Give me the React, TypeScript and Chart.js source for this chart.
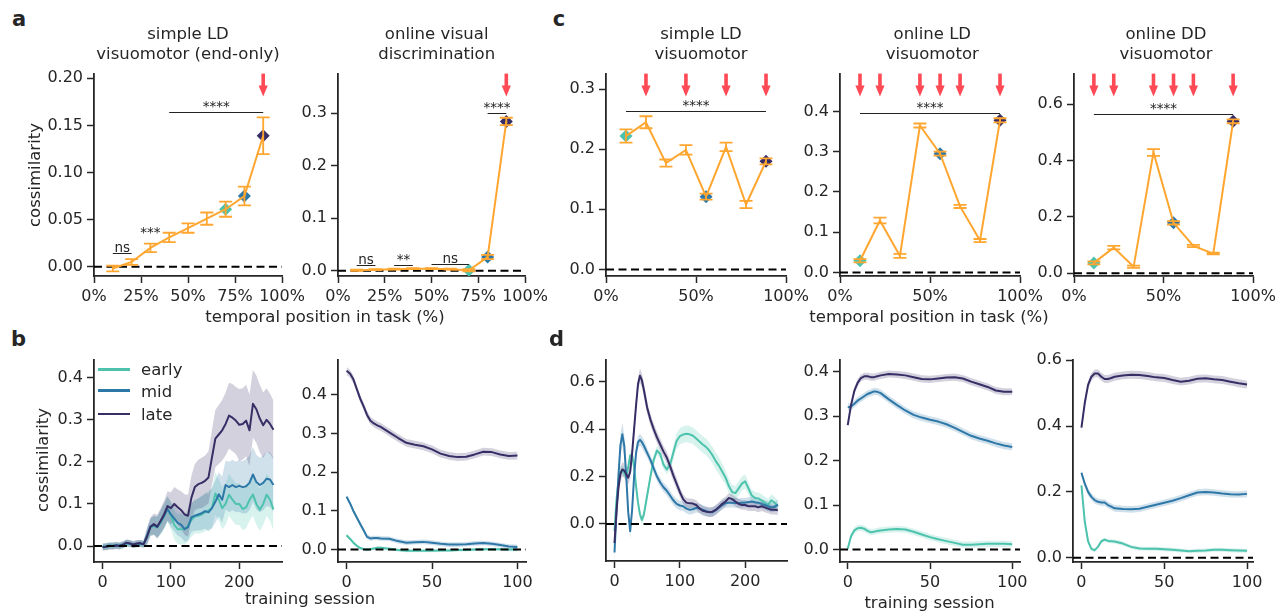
import React, { useEffect, useRef } from 'react';
import { Chart, registerables } from 'chart.js';

Chart.register(...registerables);

const FONT = "'DejaVu Sans', 'Liberation Sans', sans-serif";
const INK = '#262626';
const ORANGE = '#FFA630';
const EARLY = '#4DC3AD';
const MID = '#2E78A8';
const LATE = '#382E66';
const RED = '#FF4A55';
const PAD = { l: 60, t: 12, r: 30, b: 34 };

// ---------------- data: top row (temporal position) ----------------
const POS_A = [0.1, 0.2, 0.3, 0.4, 0.5, 0.6, 0.7, 0.8, 0.9];
const POS_C = [0.111, 0.222, 0.333, 0.444, 0.556, 0.667, 0.778, 0.889];

const A1_MEAN = [-0.002, 0.005, 0.02, 0.031, 0.041, 0.051, 0.061, 0.075, 0.139];
const A1_ERR = [0.003, 0.003, 0.0045, 0.005, 0.005, 0.0065, 0.008, 0.01, 0.0195];
const A1_MARKS = [6, 7, 8];
const A1_ARROWS = [0.9];
const A1_SIG: [number, number, number, string][] = [[0.1, 0.2, 0.0142, 'ns'], [0.3, 0.3, 0.03, '***'], [0.4, 0.9, 0.1645, '****']];

const A2_MEAN = [0.001, 0.002, 0.003, 0.004, 0.004, 0.003, 0.001, 0.026, 0.284];
const A2_ERR = [0.001, 0.001, 0.001, 0.001, 0.001, 0.001, 0.002, 0.004, 0.007];
const A2_MARKS = [6, 7, 8];
const A2_ARROWS = [0.9];
const A2_SIG: [number, number, number, string][] = [[0.1, 0.2, 0.0108, 'ns'], [0.3, 0.4, 0.0113, '**'], [0.5, 0.7, 0.0126, 'ns'], [0.8, 0.9, 0.3, '****']];

const C1_MEAN = [0.222, 0.245, 0.177, 0.199, 0.121, 0.204, 0.108, 0.18];
const C1_ERR = [0.011, 0.01, 0.006, 0.008, 0.005, 0.007, 0.006, 0.005];
const C1_ARROWS = [0.222, 0.444, 0.667, 0.889];
const C1_SIG: [number, number, number, string][] = [[0.111, 0.889, 0.263, '****']];

const C2_MEAN = [0.029, 0.129, 0.041, 0.365, 0.295, 0.164, 0.079, 0.378];
const C2_ERR = [0.004, 0.007, 0.005, 0.005, 0.005, 0.004, 0.004, 0.005];
const C2_ARROWS = [0.111, 0.222, 0.444, 0.556, 0.667, 0.889];
const C2_SIG: [number, number, number, string][] = [[0.111, 0.889, 0.396, '****']];

const C3_MEAN = [0.037, 0.091, 0.023, 0.428, 0.179, 0.097, 0.07, 0.539];
const C3_ERR = [0.005, 0.006, 0.004, 0.012, 0.006, 0.004, 0.003, 0.007];
const C3_ARROWS = [0.111, 0.222, 0.444, 0.556, 0.667, 0.889];
const C3_SIG: [number, number, number, string][] = [[0.111, 0.889, 0.566, '****']];

const C_MARKS = [0, 4, 7];

// ---------------- data: bottom row (training session) ----------------
const B1_X = [0, 5, 10, 15, 20, 25, 30, 35, 40, 45, 50, 55, 60, 65, 70, 75, 80, 85, 90, 95, 100, 105, 110, 115, 120, 125, 130, 135, 140, 145, 150, 155, 160, 165, 170, 175, 180, 185, 190, 195, 200, 205, 210, 215, 220, 225, 230, 235, 240, 245, 250];
const B1_LATE = [-0.003, -0.002, 0.0, 0.0, 0.001, 0.0, 0.003, 0.008, 0.006, 0.003, 0.006, 0.007, 0.004, 0.022, 0.045, 0.052, 0.046, 0.06, 0.075, 0.095, 0.09, 0.1, 0.092, 0.085, 0.075, 0.072, 0.115, 0.14, 0.147, 0.15, 0.155, 0.163, 0.21, 0.255, 0.265, 0.275, 0.29, 0.31, 0.305, 0.298, 0.288, 0.29, 0.298, 0.275, 0.338, 0.325, 0.303, 0.287, 0.3, 0.29, 0.276];
const B1_MID = [-0.002, -0.001, 0.001, 0.0, 0.002, 0.001, 0.004, 0.007, 0.006, 0.004, 0.005, 0.006, 0.005, 0.024, 0.047, 0.05, 0.045, 0.058, 0.072, 0.088, 0.075, 0.065, 0.055, 0.05, 0.04, 0.045, 0.068, 0.072, 0.075, 0.078, 0.083, 0.08, 0.09, 0.105, 0.123, 0.11, 0.145, 0.14, 0.145, 0.14, 0.143, 0.14, 0.142, 0.15, 0.17, 0.152, 0.145, 0.15, 0.16, 0.158, 0.145];
const B1_EARLY = [-0.001, -0.002, 0.0, 0.001, 0.001, 0.0, 0.002, 0.006, 0.005, 0.003, 0.004, 0.005, 0.004, 0.02, 0.043, 0.048, 0.044, 0.055, 0.07, 0.088, 0.072, 0.05, 0.04, 0.04, 0.04, 0.048, 0.062, 0.07, 0.072, 0.075, 0.08, 0.085, 0.09, 0.125, 0.11, 0.09, 0.1, 0.122, 0.11, 0.1, 0.1, 0.088, 0.092, 0.11, 0.122, 0.1, 0.086, 0.1, 0.122, 0.11, 0.087];
const B1_LATE_SEM = [0.008, 0.008, 0.008, 0.008, 0.008, 0.008, 0.008, 0.008, 0.008, 0.008, 0.008, 0.008, 0.008, 0.02, 0.022, 0.025, 0.028, 0.03, 0.032, 0.035, 0.038, 0.04, 0.042, 0.045, 0.048, 0.05, 0.052, 0.055, 0.058, 0.06, 0.06, 0.062, 0.065, 0.068, 0.07, 0.072, 0.075, 0.078, 0.08, 0.08, 0.085, 0.085, 0.085, 0.085, 0.08, 0.08, 0.08, 0.078, 0.075, 0.072, 0.07];
const B1_MID_SEM = [0.008, 0.008, 0.008, 0.008, 0.008, 0.008, 0.008, 0.008, 0.008, 0.008, 0.008, 0.008, 0.008, 0.018, 0.02, 0.022, 0.025, 0.028, 0.03, 0.03, 0.03, 0.03, 0.03, 0.03, 0.03, 0.032, 0.034, 0.036, 0.038, 0.04, 0.042, 0.045, 0.048, 0.05, 0.052, 0.055, 0.058, 0.06, 0.06, 0.06, 0.062, 0.062, 0.065, 0.065, 0.065, 0.065, 0.065, 0.065, 0.065, 0.065, 0.065];
const B1_EARLY_SEM = [0.008, 0.008, 0.008, 0.008, 0.008, 0.008, 0.008, 0.008, 0.008, 0.008, 0.008, 0.008, 0.008, 0.018, 0.02, 0.022, 0.025, 0.028, 0.03, 0.03, 0.032, 0.034, 0.035, 0.036, 0.037, 0.038, 0.04, 0.04, 0.042, 0.044, 0.045, 0.046, 0.048, 0.05, 0.05, 0.05, 0.05, 0.05, 0.05, 0.05, 0.05, 0.05, 0.05, 0.05, 0.05, 0.05, 0.05, 0.05, 0.05, 0.05, 0.05];

const S100_X = [0, 2, 4, 6, 8, 10, 12, 14, 16, 18, 20, 25, 30, 35, 40, 45, 50, 55, 60, 65, 70, 75, 80, 85, 90, 95, 100];
const B2_LATE = [0.462, 0.455, 0.44, 0.415, 0.39, 0.37, 0.348, 0.333, 0.326, 0.321, 0.317, 0.303, 0.289, 0.276, 0.271, 0.267, 0.259, 0.248, 0.242, 0.239, 0.24, 0.246, 0.253, 0.252, 0.246, 0.242, 0.243];
const B2_MID = [0.137, 0.12, 0.1, 0.083, 0.066, 0.05, 0.033, 0.029, 0.03, 0.03, 0.029, 0.028, 0.022, 0.018, 0.019, 0.02, 0.018, 0.015, 0.013, 0.013, 0.014, 0.016, 0.017, 0.015, 0.012, 0.008, 0.007];
const B2_EARLY = [0.037, 0.028, 0.018, 0.01, 0.004, 0.001, 0.0, 0.001, 0.003, 0.005, 0.005, 0.002, -0.001, -0.003, -0.003, -0.003, -0.003, -0.002, -0.002, -0.001, -0.001, 0.0, 0.001, 0.001, 0.001, 0.0, 0.0];
const B2_SEM = { late: 0.01, mid: 0.006, early: 0.004 };

const D1_X = [0, 3, 6, 9, 12, 15, 18, 21, 24, 27, 30, 33, 36, 39, 42, 45, 50, 55, 60, 65, 70, 75, 80, 85, 90, 95, 100, 105, 110, 115, 120, 125, 130, 135, 140, 145, 150, 155, 160, 165, 170, 175, 180, 185, 190, 195, 200, 205, 210, 215, 220, 225, 230, 235, 240, 245, 250];
const D1_LATE = [-0.08, 0.05, 0.15, 0.21, 0.23, 0.225, 0.21, 0.195, 0.22, 0.3, 0.4, 0.5, 0.59, 0.625, 0.605, 0.565, 0.49, 0.44, 0.4, 0.365, 0.335, 0.305, 0.28, 0.245, 0.205, 0.17, 0.135, 0.105, 0.09, 0.087, 0.086, 0.08, 0.066, 0.056, 0.052, 0.05, 0.052, 0.06, 0.072, 0.085, 0.095, 0.11, 0.105, 0.095, 0.085, 0.08, 0.08, 0.075, 0.075, 0.075, 0.07, 0.075, 0.07, 0.065, 0.06, 0.06, 0.058];
const D1_MID = [-0.12, 0.05, 0.2, 0.33, 0.378, 0.33, 0.2, 0.05, -0.03, 0.06, 0.2, 0.3, 0.345, 0.355, 0.345, 0.33, 0.3, 0.27, 0.235, 0.2, 0.175, 0.155, 0.14, 0.12, 0.1, 0.085, 0.078, 0.075, 0.065, 0.06, 0.062, 0.068, 0.065, 0.06, 0.055, 0.05, 0.05, 0.058, 0.07, 0.08, 0.088, 0.09, 0.09, 0.088, 0.088, 0.09, 0.09, 0.093, 0.095, 0.092, 0.09, 0.085, 0.08, 0.075, 0.07, 0.072, 0.082];
const D1_EARLY = [-0.03, 0.1, 0.18, 0.22, 0.225, 0.215, 0.2, 0.24, 0.29, 0.29, 0.24, 0.16, 0.09, 0.04, 0.017, 0.04, 0.12, 0.2, 0.27, 0.31, 0.295, 0.25, 0.23, 0.25, 0.3, 0.35, 0.37, 0.377, 0.38, 0.378, 0.372, 0.36, 0.348, 0.335, 0.325, 0.31, 0.29, 0.265, 0.245, 0.22, 0.195, 0.16, 0.135, 0.13, 0.15, 0.17, 0.18, 0.15, 0.12, 0.11, 0.108, 0.1, 0.09, 0.08, 0.1, 0.09, 0.075];
const D1_LATE_SEM = [0.04, 0.03, 0.03, 0.03, 0.03, 0.03, 0.03, 0.03, 0.03, 0.03, 0.03, 0.03, 0.03, 0.03, 0.03, 0.03, 0.025, 0.025, 0.025, 0.025, 0.025, 0.025, 0.025, 0.025, 0.025, 0.025, 0.02, 0.02, 0.02, 0.02, 0.02, 0.02, 0.02, 0.02, 0.02, 0.02, 0.02, 0.02, 0.02, 0.02, 0.02, 0.02, 0.02, 0.02, 0.02, 0.02, 0.02, 0.02, 0.02, 0.02, 0.02, 0.02, 0.02, 0.02, 0.02, 0.02, 0.02];
const D1_MID_SEM = [0.05, 0.04, 0.04, 0.045, 0.05, 0.045, 0.04, 0.03, 0.03, 0.03, 0.03, 0.03, 0.025, 0.025, 0.025, 0.025, 0.02, 0.02, 0.02, 0.02, 0.02, 0.02, 0.02, 0.02, 0.02, 0.02, 0.02, 0.02, 0.02, 0.02, 0.02, 0.02, 0.02, 0.02, 0.02, 0.02, 0.02, 0.02, 0.02, 0.02, 0.02, 0.02, 0.02, 0.02, 0.02, 0.02, 0.02, 0.02, 0.02, 0.02, 0.02, 0.02, 0.02, 0.02, 0.02, 0.02, 0.02];
const D1_EARLY_SEM = [0.02, 0.02, 0.02, 0.02, 0.02, 0.02, 0.02, 0.02, 0.02, 0.02, 0.02, 0.02, 0.02, 0.02, 0.02, 0.02, 0.02, 0.02, 0.02, 0.02, 0.02, 0.02, 0.02, 0.02, 0.03, 0.032, 0.034, 0.035, 0.035, 0.035, 0.035, 0.035, 0.035, 0.035, 0.035, 0.035, 0.035, 0.035, 0.035, 0.035, 0.03, 0.03, 0.03, 0.03, 0.03, 0.03, 0.03, 0.025, 0.025, 0.025, 0.025, 0.025, 0.025, 0.025, 0.025, 0.025, 0.025];

const D2_LATE = [0.28, 0.325, 0.357, 0.375, 0.386, 0.39, 0.39, 0.388, 0.388, 0.39, 0.392, 0.395, 0.394, 0.392, 0.388, 0.384, 0.383, 0.385, 0.387, 0.388, 0.385, 0.378, 0.372, 0.366, 0.358, 0.355, 0.355];
const D2_MID = [0.32, 0.322, 0.328, 0.335, 0.34, 0.345, 0.35, 0.353, 0.356, 0.355, 0.352, 0.338, 0.325, 0.313, 0.303, 0.297, 0.292, 0.288, 0.282, 0.274, 0.265, 0.256, 0.25, 0.245, 0.239, 0.234, 0.231];
const D2_EARLY = [0.002, 0.03, 0.043, 0.048, 0.049, 0.047, 0.042, 0.039, 0.04, 0.042, 0.043, 0.045, 0.046, 0.045, 0.04, 0.034, 0.028, 0.023, 0.019, 0.015, 0.011, 0.011, 0.012, 0.013, 0.013, 0.013, 0.012];
const D2_SEM = { late: 0.008, mid: 0.008, early: 0.007 };

const D3_LATE = [0.395, 0.47, 0.525, 0.55, 0.56, 0.56, 0.55, 0.543, 0.543, 0.546, 0.55, 0.554, 0.556, 0.555, 0.552, 0.548, 0.546, 0.54, 0.535, 0.538, 0.544, 0.545, 0.542, 0.54, 0.535, 0.53, 0.526];
const D3_MID = [0.258, 0.225, 0.2, 0.185, 0.175, 0.17, 0.168, 0.168, 0.16, 0.155, 0.15, 0.148, 0.147, 0.149, 0.155, 0.161, 0.167, 0.173, 0.181, 0.19, 0.198, 0.2, 0.198, 0.195, 0.193, 0.192, 0.194];
const D3_EARLY = [0.22, 0.11, 0.05, 0.027, 0.023, 0.033, 0.05, 0.055, 0.051, 0.05, 0.049, 0.043, 0.033, 0.028, 0.027, 0.027, 0.026, 0.024, 0.022, 0.02, 0.021, 0.022, 0.024, 0.024, 0.023, 0.022, 0.021];
const D3_SEM = { late: 0.012, mid: 0.01, early: 0.006 };

// ---------------- helpers ----------------
const pct = (v: number) => `${Math.round(v * 100)}%`;
const dec = (n: number) => (v: number) => v.toFixed(n);
const int = (v: number) => `${Math.round(v)}`;

function rgba(hex: string, a: number) {
  const n = parseInt(hex.slice(1), 16);
  return `rgba(${(n >> 16) & 255},${(n >> 8) & 255},${n & 255},${a})`;
}

function makeScales(xr: number[], xt: number[], xf: (v: number) => string, yr: number[], yt: number[], yf: (v: number) => string) {
  const axis = (t: number[], f: (v: number) => string) => ({
    type: 'linear',
    afterBuildTicks: (s: any) => {
      s.ticks = t.map((value) => ({ value }));
    },
    ticks: {
      callback: (v: any) => f(Number(v)),
      color: INK,
      font: { family: FONT, size: 16 },
      padding: 4,
      autoSkip: false,
      maxRotation: 0,
      minRotation: 0,
    },
    grid: { drawOnChartArea: false, drawTicks: true, tickLength: 7, tickWidth: 1.5, tickColor: INK, color: INK },
    border: { display: true, color: INK, width: 1.8 },
  });
  return {
    x: { ...axis(xt, xf), min: xr[0], max: xr[1], afterFit: (s: any) => { s.height = PAD.b; } },
    y: { ...axis(yt, yf), min: yr[0], max: yr[1], afterFit: (s: any) => { s.width = PAD.l; } },
  };
}

function drawZero(chart: any) {
  const { ctx, chartArea: ca, scales } = chart;
  const y0 = scales.y.getPixelForValue(0);
  ctx.save();
  ctx.strokeStyle = '#000';
  ctx.lineWidth = 2;
  ctx.setLineDash([8, 4.5]);
  ctx.beginPath();
  ctx.moveTo(ca.left, y0);
  ctx.lineTo(ca.right, y0);
  ctx.stroke();
  ctx.restore();
}

const baseOptions = {
  responsive: false,
  maintainAspectRatio: false,
  animation: false,
  events: [],
  layout: { padding: { left: 0, top: PAD.t, right: PAD.r, bottom: 0 } },
};

interface TopSpec {
  pos: number[];
  mean: number[];
  err: number[];
  marks: number[];
  arrows: number[];
  sig: [number, number, number, string][];
  yr: number[];
  yt: number[];
  yd: number;
  xt: number[];
}

function topConfig(p: TopSpec): any {
  const deco = {
    id: 'topDeco',
    beforeDatasetsDraw(chart: any) {
      drawZero(chart);
    },
    afterDatasetsDraw(chart: any) {
      const { ctx, chartArea: ca, scales } = chart;
      const { x, y } = scales;
      ctx.save();
      // error bars
      ctx.strokeStyle = ORANGE;
      ctx.lineWidth = 1.8;
      p.pos.forEach((xv, i) => {
        const px = x.getPixelForValue(xv);
        const lo = y.getPixelForValue(p.mean[i] - p.err[i]);
        const hi = y.getPixelForValue(p.mean[i] + p.err[i]);
        ctx.beginPath();
        ctx.moveTo(px, lo);
        ctx.lineTo(px, hi);
        ctx.moveTo(px - 6.5, lo);
        ctx.lineTo(px + 6.5, lo);
        ctx.moveTo(px - 6.5, hi);
        ctx.lineTo(px + 6.5, hi);
        ctx.stroke();
      });
      // significance bars
      ctx.strokeStyle = '#222';
      ctx.lineWidth = 1;
      ctx.fillStyle = INK;
      ctx.font = `13.5px ${FONT}`;
      ctx.textAlign = 'center';
      ctx.textBaseline = 'alphabetic';
      p.sig.forEach(([x1, x2, yv, label]) => {
        const a = x.getPixelForValue(x1);
        const b = x.getPixelForValue(x2);
        const py = Math.round(y.getPixelForValue(yv)) + 0.5;
        if (b > a) {
          ctx.beginPath();
          ctx.moveTo(a, py);
          ctx.lineTo(b, py);
          ctx.stroke();
        }
        ctx.fillText(label, (a + b) / 2, py - 2);
      });
      // arrows
      ctx.fillStyle = RED;
      p.arrows.forEach((xv) => {
        const px = x.getPixelForValue(xv);
        const t = ca.top;
        ctx.fillRect(px - 1.8, t, 3.6, 13);
        ctx.beginPath();
        ctx.moveTo(px - 4.6, t + 12);
        ctx.lineTo(px + 4.6, t + 12);
        ctx.lineTo(px, t + 23);
        ctx.closePath();
        ctx.fill();
      });
      ctx.restore();
    },
  };
  return {
    type: 'line',
    data: {
      datasets: [
        {
          type: 'line',
          data: p.pos.map((xv, i) => ({ x: xv, y: p.mean[i] })),
          borderColor: ORANGE,
          borderWidth: 2,
          pointRadius: 0,
          fill: false,
          tension: 0,
          order: 0,
        },
        {
          type: 'scatter',
          data: p.marks.map((i) => ({ x: p.pos[i], y: p.mean[i] })),
          pointStyle: 'rectRot',
          pointRadius: 6.5,
          pointBackgroundColor: [EARLY, MID, LATE],
          pointBorderWidth: 0,
          showLine: false,
          order: 1,
        },
      ],
    },
    options: {
      ...baseOptions,
      scales: makeScales([0, 1], p.xt, pct, p.yr, p.yt, dec(p.yd)),
      plugins: { legend: { display: false }, tooltip: { enabled: false }, title: { display: false } },
    },
    plugins: [deco],
  };
}

function bandSets(xs: number[], mean: number[], sem: number[] | number, color: string) {
  const s = (i: number) => (Array.isArray(sem) ? sem[i] : sem);
  return [
    { data: xs.map((x, i) => ({ x, y: mean[i] - s(i) })), borderWidth: 0, borderColor: 'rgba(0,0,0,0)', pointRadius: 0, fill: false, tension: 0 },
    { data: xs.map((x, i) => ({ x, y: mean[i] + s(i) })), borderWidth: 0, borderColor: 'rgba(0,0,0,0)', pointRadius: 0, fill: '-1', backgroundColor: rgba(color, 0.22), tension: 0 },
    { data: xs.map((x, i) => ({ x, y: mean[i] })), borderWidth: 2, borderColor: color, pointRadius: 0, fill: false, tension: 0, borderJoinStyle: 'round' },
  ];
}

interface BotSpec {
  xs: number[];
  late: number[];
  mid: number[];
  early: number[];
  semLate: number[] | number;
  semMid: number[] | number;
  semEarly: number[] | number;
  xr: number[];
  xt: number[];
  yr: number[];
  yt: number[];
}

function botConfig(p: BotSpec): any {
  const deco = {
    id: 'botDeco',
    afterDatasetsDraw(chart: any) {
      drawZero(chart);
    },
  };
  return {
    type: 'line',
    data: {
      datasets: [
        ...bandSets(p.xs, p.late, p.semLate, LATE),
        ...bandSets(p.xs, p.mid, p.semMid, MID),
        ...bandSets(p.xs, p.early, p.semEarly, EARLY),
      ],
    },
    options: {
      ...baseOptions,
      scales: makeScales(p.xr, p.xt, int, p.yr, p.yt, dec(1)),
      plugins: {
        legend: { display: false },
        tooltip: { enabled: false },
        title: { display: false },
        filler: { propagate: false, drawTime: 'beforeDatasetsDraw' },
      },
    },
    plugins: [deco],
  };
}

function Panel({ box, make }: { box: number[]; make: () => any }) {
  const ref = useRef<HTMLCanvasElement>(null);
  const [L, T, R, B] = box;
  const w = Math.round(R - L) + PAD.l + PAD.r;
  const h = Math.round(B - T) + PAD.t + PAD.b;
  useEffect(() => {
    const chart = new Chart(ref.current as HTMLCanvasElement, make());
    return () => chart.destroy();
  }, []);
  return (
    <canvas
      ref={ref}
      width={w}
      height={h}
      style={{ position: 'absolute', left: L - PAD.l, top: T - PAD.t, width: w, height: h }}
    />
  );
}

function Label({ x, y, children, size = 16.5, rotate = false, bold = false, lh }: any) {
  return (
    <div
      style={{
        position: 'absolute',
        left: x,
        top: y,
        transform: `translate(-50%, -50%)${rotate ? ' rotate(-90deg)' : ''}`,
        whiteSpace: 'nowrap',
        textAlign: 'center',
        fontFamily: FONT,
        fontSize: size,
        fontWeight: bold ? 'bold' : 'normal',
        color: INK,
        lineHeight: lh ? `${lh}px` : 'normal',
      }}
    >
      {children}
    </div>
  );
}

const LEGEND_NAMES = ['early', 'mid', 'late'];
const LEGEND_COLORS = [EARLY, MID, LATE];

export default function App() {
  return (
    <div style={{ position: 'absolute', left: 0, top: 0, width: 1278, height: 612, background: '#fff', overflow: 'hidden' }}>
      <Panel box={[94, 72, 282, 276]} make={() => topConfig({ pos: POS_A, mean: A1_MEAN, err: A1_ERR, marks: A1_MARKS, arrows: A1_ARROWS, sig: A1_SIG, yr: [-0.0099, 0.205], yt: [0, 0.05, 0.1, 0.15, 0.2], yd: 2, xt: [0, 0.25, 0.5, 0.75, 1] })} />
      <Panel box={[338, 72, 525, 276]} make={() => topConfig({ pos: POS_A, mean: A2_MEAN, err: A2_ERR, marks: A2_MARKS, arrows: A2_ARROWS, sig: A2_SIG, yr: [-0.01, 0.375], yt: [0, 0.1, 0.2, 0.3], yd: 1, xt: [0, 0.25, 0.5, 0.75, 1] })} />
      <Panel box={[606, 72, 786, 276]} make={() => topConfig({ pos: POS_C, mean: C1_MEAN, err: C1_ERR, marks: C_MARKS, arrows: C1_ARROWS, sig: C1_SIG, yr: [-0.011, 0.326], yt: [0, 0.1, 0.2, 0.3], yd: 1, xt: [0, 0.5, 1] })} />
      <Panel box={[840, 72, 1020, 276]} make={() => topConfig({ pos: POS_C, mean: C2_MEAN, err: C2_ERR, marks: C_MARKS, arrows: C2_ARROWS, sig: C2_SIG, yr: [-0.009, 0.494], yt: [0, 0.1, 0.2, 0.3, 0.4], yd: 1, xt: [0, 0.5, 1] })} />
      <Panel box={[1074, 72, 1253, 276]} make={() => topConfig({ pos: POS_C, mean: C3_MEAN, err: C3_ERR, marks: C_MARKS, arrows: C3_ARROWS, sig: C3_SIG, yr: [-0.0095, 0.708], yt: [0, 0.2, 0.4, 0.6], yd: 1, xt: [0, 0.5, 1] })} />

      <Panel box={[94, 358, 282, 562]} make={() => botConfig({ xs: B1_X, late: B1_LATE, mid: B1_MID, early: B1_EARLY, semLate: B1_LATE_SEM, semMid: B1_MID_SEM, semEarly: B1_EARLY_SEM, xr: [-12.5, 262.5], xt: [0, 100, 200], yr: [-0.038, 0.443], yt: [0, 0.1, 0.2, 0.3, 0.4] })} />
      <Panel box={[338, 358, 526, 562]} make={() => botConfig({ xs: S100_X, late: B2_LATE, mid: B2_MID, early: B2_EARLY, semLate: B2_SEM.late, semMid: B2_SEM.mid, semEarly: B2_SEM.early, xr: [-5, 105], xt: [0, 50, 100], yr: [-0.032, 0.491], yt: [0, 0.1, 0.2, 0.3, 0.4] })} />
      <Panel box={[606, 358, 787, 561]} make={() => botConfig({ xs: D1_X, late: D1_LATE, mid: D1_MID, early: D1_EARLY, semLate: D1_LATE_SEM, semMid: D1_MID_SEM, semEarly: D1_EARLY_SEM, xr: [-13, 264], xt: [0, 100, 200], yr: [-0.156, 0.693], yt: [0, 0.2, 0.4, 0.6] })} />
      <Panel box={[840, 358, 1020, 562]} make={() => botConfig({ xs: S100_X, late: D2_LATE, mid: D2_MID, early: D2_EARLY, semLate: D2_SEM.late, semMid: D2_SEM.mid, semEarly: D2_SEM.early, xr: [-4.7, 104.7], xt: [0, 50, 100], yr: [-0.028, 0.4275], yt: [0, 0.1, 0.2, 0.3, 0.4] })} />
      <Panel box={[1073, 358, 1253, 562]} make={() => botConfig({ xs: S100_X, late: D3_LATE, mid: D3_MID, early: D3_EARLY, semLate: D3_SEM.late, semMid: D3_SEM.mid, semEarly: D3_SEM.early, xr: [-5.1, 103.6], xt: [0, 50, 100], yr: [-0.013, 0.602], yt: [0, 0.2, 0.4, 0.6] })} />

      {/* panel letters */}
      <Label x={19} y={19.4} size={21} bold>a</Label>
      <Label x={18.5} y={338.7} size={21} bold>b</Label>
      <Label x={559} y={19.4} size={21} bold>c</Label>
      <Label x={556.5} y={338.7} size={21} bold>d</Label>

      {/* titles */}
      <Label x={188} y={43.6} lh={20}>simple LD<br />visuomotor (end-only)</Label>
      <Label x={436.7} y={43.6} lh={20}>online visual<br />discrimination</Label>
      <Label x={701} y={43.6} lh={20}>simple LD<br />visuomotor</Label>
      <Label x={932.3} y={43.6} lh={20}>online LD<br />visuomotor</Label>
      <Label x={1166} y={43.6} lh={20}>online DD<br />visuomotor</Label>

      {/* axis labels */}
      <Label x={33.6} y={175} rotate>cossimilarity</Label>
      <Label x={42.3} y={460} rotate>cossimilarity</Label>
      <Label x={325} y={316}>temporal position in task (%)</Label>
      <Label x={929} y={316}>temporal position in task (%)</Label>
      <Label x={310} y={598}>training session</Label>
      <Label x={929.5} y={601.5}>training session</Label>

      {/* legend (panel b) */}
      {LEGEND_NAMES.map((name, i) => {
        const cy = [369.3, 390.7, 414][i];
        return (
          <React.Fragment key={name}>
            <div style={{ position: 'absolute', left: 98, top: cy - 1.25, width: 32, height: 2.5, background: LEGEND_COLORS[i] }} />
            <div style={{ position: 'absolute', left: 141, top: cy, transform: 'translateY(-50%)', fontFamily: FONT, fontSize: 16.5, color: INK, whiteSpace: 'nowrap' }}>{name}</div>
          </React.Fragment>
        );
      })}
    </div>
  );
}
